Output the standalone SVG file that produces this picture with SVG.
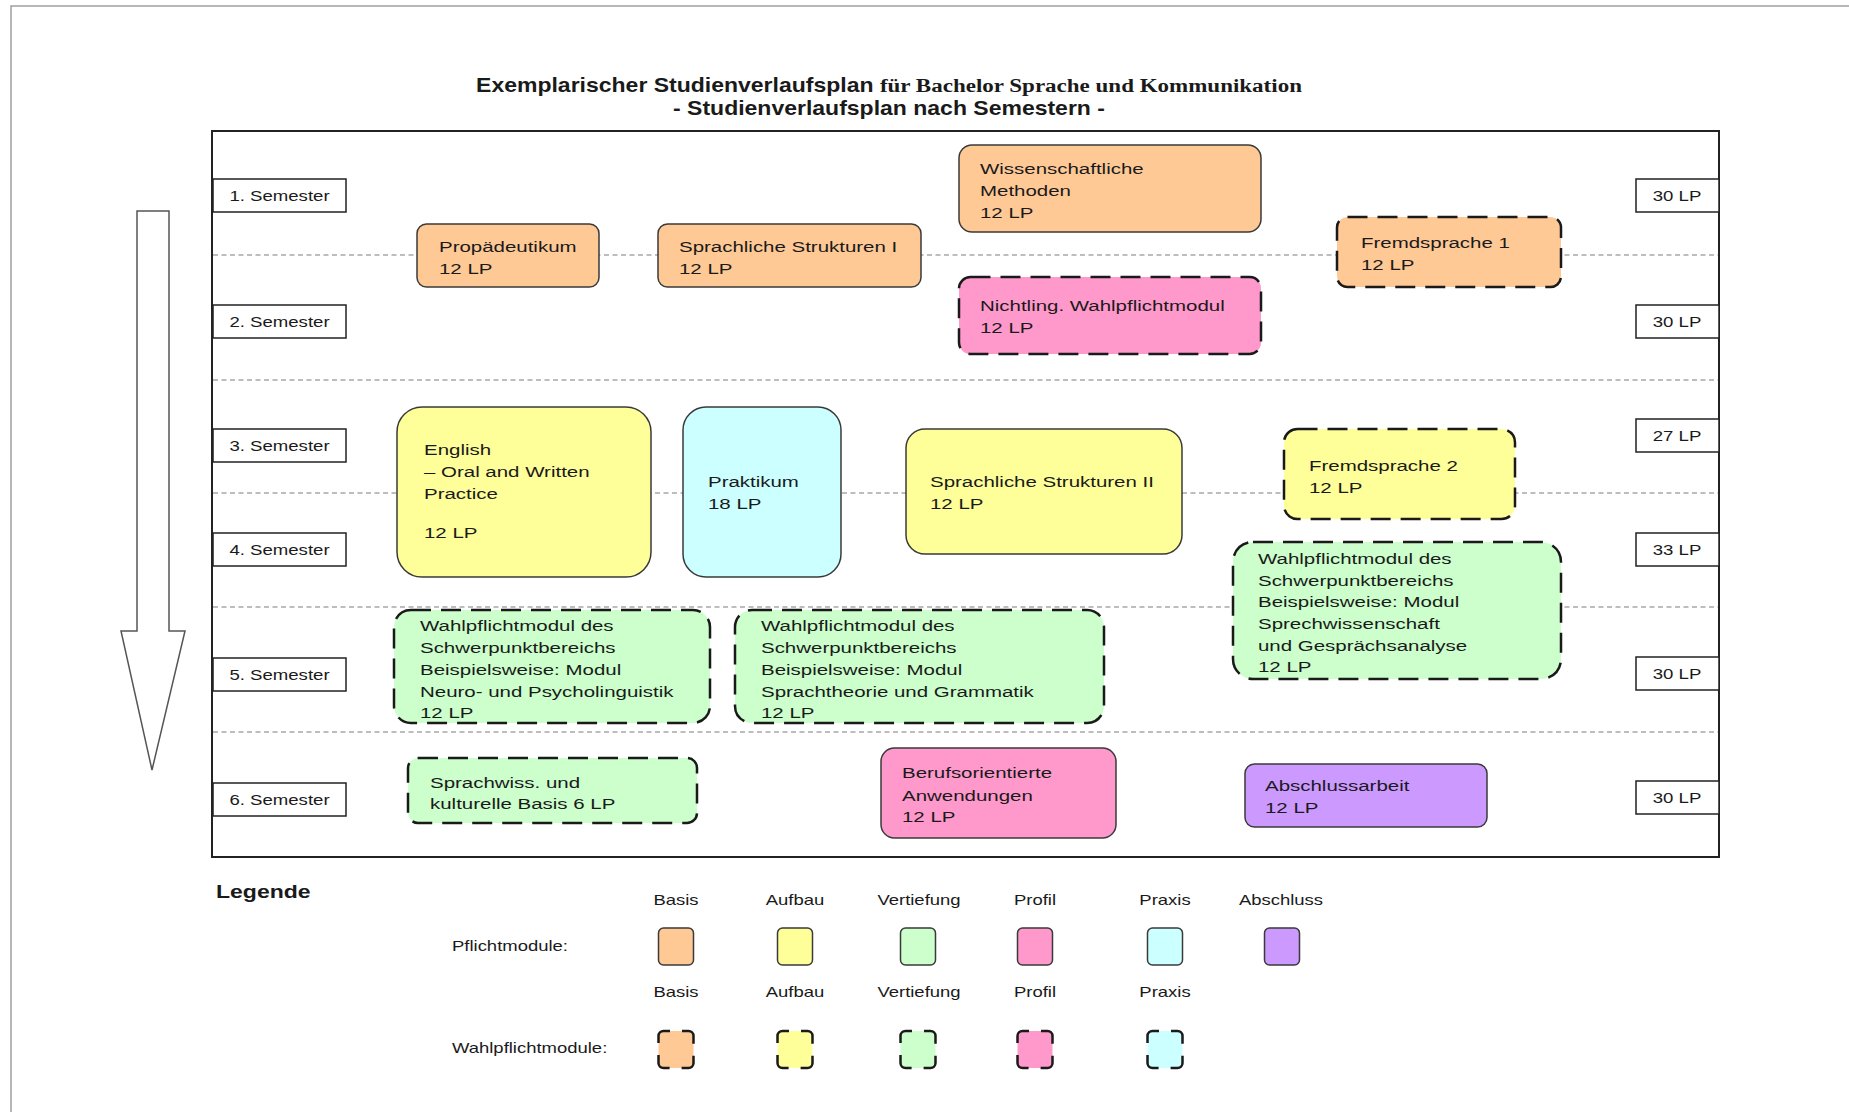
<svg xmlns="http://www.w3.org/2000/svg" width="1849" height="1112" viewBox="0 0 1849 1112">
<style>
text{font-family:"Liberation Sans",Arial,sans-serif;fill:#1a1a1a}
.m{font-size:15.5px}
.lbl{font-size:15.5px;text-anchor:middle}
.lg{font-size:14px}
.lgc{font-size:14px;text-anchor:middle}
.box{fill:#fff;stroke:#222;stroke-width:1.5}
.solid{stroke:#3a3a3a;stroke-width:1.5}
.dash{stroke:#1a1a1a;stroke-width:2.5;stroke-dasharray:20 10}
.ldash{stroke:#1a1a1a;stroke-width:2.5;stroke-dasharray:21.85 12;stroke-dashoffset:15.35}
.div{stroke:#a8a8a8;stroke-width:1.5;stroke-dasharray:5 3.5;fill:none}
.basis{fill:#FFC996}.aufbau{fill:#FFFF99}.vert{fill:#CCFFCC}.profil{fill:#FF99CC}.praxis{fill:#CCFFFF}.abschluss{fill:#CC99FF}
</style>
<rect width="1849" height="1112" fill="#fff"/>
<path d="M11 1112V6H1849" fill="none" stroke="#a0a0a0" stroke-width="1.5"/>
<g id="title">
<text transform="translate(889 92) scale(1.18 1)" text-anchor="middle" font-size="19.5" font-weight="bold"><tspan>Exemplarischer Studienverlaufsplan </tspan><tspan font-family="Liberation Serif, Times New Roman, serif">für Bachelor Sprache und Kommunikation</tspan></text>
<text transform="translate(889 115) scale(1.18 1)" text-anchor="middle" font-size="19.5" font-weight="bold">- Studienverlaufsplan nach Semestern -</text>
</g>
<g id="frame"><rect x="212" y="131" width="1507" height="726" fill="none" stroke="#222" stroke-width="2"/></g>
<g id="dividers">
<path class="div" d="M213 255H1718M213 380H1718M213 493H1718M213 607H1718M213 732H1718"/>
</g>
<g id="timeline-arrow">
<path d="M137 211H169V631H185L152 770L121 631H137Z" fill="#fff" stroke="#555" stroke-width="1.5" stroke-linejoin="miter"/>
</g>
<g id="semesters">
<g id="sem1"><rect class="box" x="213" y="179" width="133" height="33"/><text class="lbl" transform="translate(279.5 201) scale(1.2 1)">1. Semester</text></g>
<g id="sem2"><rect class="box" x="213" y="305" width="133" height="33"/><text class="lbl" transform="translate(279.5 327) scale(1.2 1)">2. Semester</text></g>
<g id="sem3"><rect class="box" x="213" y="429" width="133" height="33"/><text class="lbl" transform="translate(279.5 451) scale(1.2 1)">3. Semester</text></g>
<g id="sem4"><rect class="box" x="213" y="533" width="133" height="33"/><text class="lbl" transform="translate(279.5 555) scale(1.2 1)">4. Semester</text></g>
<g id="sem5"><rect class="box" x="213" y="658" width="133" height="33"/><text class="lbl" transform="translate(279.5 680) scale(1.2 1)">5. Semester</text></g>
<g id="sem6"><rect class="box" x="213" y="783" width="133" height="33"/><text class="lbl" transform="translate(279.5 805) scale(1.2 1)">6. Semester</text></g>
</g>
<g id="credits">
<g id="lp1"><rect class="box" x="1636" y="179" width="83" height="33"/><text class="lbl" transform="translate(1677 201) scale(1.2 1)">30 LP</text></g>
<g id="lp2"><rect class="box" x="1636" y="305" width="83" height="33"/><text class="lbl" transform="translate(1677 327) scale(1.2 1)">30 LP</text></g>
<g id="lp3"><rect class="box" x="1636" y="419" width="83" height="33"/><text class="lbl" transform="translate(1677 441) scale(1.2 1)">27 LP</text></g>
<g id="lp4"><rect class="box" x="1636" y="533" width="83" height="33"/><text class="lbl" transform="translate(1677 555) scale(1.2 1)">33 LP</text></g>
<g id="lp5"><rect class="box" x="1636" y="657" width="83" height="33"/><text class="lbl" transform="translate(1677 679) scale(1.2 1)">30 LP</text></g>
<g id="lp6"><rect class="box" x="1636" y="781" width="83" height="33"/><text class="lbl" transform="translate(1677 803) scale(1.2 1)">30 LP</text></g>
</g>
<g id="modules">
<g id="wiss-methoden"><rect class="basis solid" x="959" y="145" width="302" height="87" rx="13"/><text class="m" transform="translate(980 174) scale(1.32 1)"><tspan x="0" y="0">Wissenschaftliche</tspan><tspan x="0" y="22">Methoden</tspan><tspan x="0" y="44">12 LP</tspan></text></g>
<g id="propaedeutikum"><rect class="basis solid" x="417" y="224" width="182" height="63" rx="9.5"/><text class="m" transform="translate(439 252) scale(1.32 1)"><tspan x="0" y="0">Propädeutikum</tspan><tspan x="0" y="22">12 LP</tspan></text></g>
<g id="sprachstrukturen1"><rect class="basis solid" x="658" y="224" width="263" height="63" rx="9.5"/><text class="m" transform="translate(679 252) scale(1.32 1)"><tspan x="0" y="0">Sprachliche Strukturen I</tspan><tspan x="0" y="22">12 LP</tspan></text></g>
<g id="fremdsprache1"><rect class="basis dash" x="1337" y="217" width="224" height="70" rx="10.5"/><text class="m" transform="translate(1361 248) scale(1.32 1)"><tspan x="0" y="0">Fremdsprache 1</tspan><tspan x="0" y="22">12 LP</tspan></text></g>
<g id="nichtling"><rect class="profil dash" x="959" y="277" width="302" height="77" rx="11.5"/><text class="m" transform="translate(980 311) scale(1.32 1)"><tspan x="0" y="0">Nichtling. Wahlpflichtmodul</tspan><tspan x="0" y="22">12 LP</tspan></text></g>
<g id="english"><rect class="aufbau solid" x="397" y="407" width="254" height="170" rx="25"/><text class="m" transform="translate(424 455) scale(1.32 1)"><tspan x="0" y="0">English</tspan><tspan x="0" y="22">– Oral and Written</tspan><tspan x="0" y="44">Practice</tspan><tspan x="0" y="83">12 LP</tspan></text></g>
<g id="praktikum"><rect class="praxis solid" x="683" y="407" width="158" height="170" rx="23"/><text class="m" transform="translate(708 487) scale(1.32 1)"><tspan x="0" y="0">Praktikum</tspan><tspan x="0" y="22">18 LP</tspan></text></g>
<g id="sprachstrukturen2"><rect class="aufbau solid" x="906" y="429" width="276" height="125" rx="19"/><text class="m" transform="translate(930 487) scale(1.32 1)"><tspan x="0" y="0">Sprachliche Strukturen II</tspan><tspan x="0" y="22">12 LP</tspan></text></g>
<g id="fremdsprache2"><rect class="aufbau dash" x="1284" y="429" width="231" height="90" rx="13.5"/><text class="m" transform="translate(1309 471) scale(1.32 1)"><tspan x="0" y="0">Fremdsprache 2</tspan><tspan x="0" y="22">12 LP</tspan></text></g>
<g id="wpm-sprechwissenschaft"><rect class="vert dash" x="1233" y="542" width="328" height="137" rx="20"/><text class="m" transform="translate(1258 564) scale(1.32 1)"><tspan x="0" y="0">Wahlpflichtmodul des</tspan><tspan x="0" y="22">Schwerpunktbereichs</tspan><tspan x="0" y="43">Beispielsweise: Modul</tspan><tspan x="0" y="65">Sprechwissenschaft</tspan><tspan x="0" y="87">und Gesprächsanalyse</tspan><tspan x="0" y="108">12 LP</tspan></text></g>
<g id="wpm-neuro"><rect class="vert dash" x="394" y="610" width="316" height="113" rx="17"/><text class="m" transform="translate(420 631) scale(1.32 1)"><tspan x="0" y="0">Wahlpflichtmodul des</tspan><tspan x="0" y="22">Schwerpunktbereichs</tspan><tspan x="0" y="44">Beispielsweise: Modul</tspan><tspan x="0" y="66">Neuro- und Psycholinguistik</tspan><tspan x="0" y="87">12 LP</tspan></text></g>
<g id="wpm-sprachtheorie"><rect class="vert dash" x="735" y="610" width="369" height="113" rx="17"/><text class="m" transform="translate(761 631) scale(1.32 1)"><tspan x="0" y="0">Wahlpflichtmodul des</tspan><tspan x="0" y="22">Schwerpunktbereichs</tspan><tspan x="0" y="44">Beispielsweise: Modul</tspan><tspan x="0" y="66">Sprachtheorie und Grammatik</tspan><tspan x="0" y="87">12 LP</tspan></text></g>
<g id="sprachwiss-basis"><rect class="vert dash" x="408" y="758" width="289" height="65" rx="10"/><text class="m" transform="translate(430 788) scale(1.32 1)"><tspan x="0" y="0">Sprachwiss. und</tspan><tspan x="0" y="21">kulturelle Basis 6 LP</tspan></text></g>
<g id="berufsorientiert"><rect class="profil solid" x="881" y="748" width="235" height="90" rx="13.5"/><text class="m" transform="translate(902 778) scale(1.32 1)"><tspan x="0" y="0">Berufsorientierte</tspan><tspan x="0" y="23">Anwendungen</tspan><tspan x="0" y="44">12 LP</tspan></text></g>
<g id="abschlussarbeit"><rect class="abschluss solid" x="1245" y="764" width="242" height="63" rx="9.5"/><text class="m" transform="translate(1265 791) scale(1.32 1)"><tspan x="0" y="0">Abschlussarbeit</tspan><tspan x="0" y="22">12 LP</tspan></text></g>
</g>
<g id="connectors"></g>
<g id="legend">
<text transform="translate(216 898) scale(1.28 1)" font-size="18" font-weight="bold">Legende</text>
<g id="legend-headers1">
<text class="lgc" transform="translate(676 905) scale(1.32 1)">Basis</text>
<text class="lgc" transform="translate(795 905) scale(1.32 1)">Aufbau</text>
<text class="lgc" transform="translate(919 905) scale(1.32 1)">Vertiefung</text>
<text class="lgc" transform="translate(1035 905) scale(1.32 1)">Profil</text>
<text class="lgc" transform="translate(1165 905) scale(1.32 1)">Praxis</text>
<text class="lgc" transform="translate(1281 905) scale(1.32 1)">Abschluss</text>
</g>
<text class="lg" transform="translate(452 951) scale(1.32 1)">Pflichtmodule:</text>
<g id="legend-pflicht">
<rect class="basis solid" x="658.5" y="928" width="35" height="37" rx="5"/>
<rect class="aufbau solid" x="777.5" y="928" width="35" height="37" rx="5"/>
<rect class="vert solid" x="900.5" y="928" width="35" height="37" rx="5"/>
<rect class="profil solid" x="1017.5" y="928" width="35" height="37" rx="5"/>
<rect class="praxis solid" x="1147.5" y="928" width="35" height="37" rx="5"/>
<rect class="abschluss solid" x="1264.5" y="928" width="35" height="37" rx="5"/>
</g>
<g id="legend-headers2">
<text class="lgc" transform="translate(676 997) scale(1.32 1)">Basis</text>
<text class="lgc" transform="translate(795 997) scale(1.32 1)">Aufbau</text>
<text class="lgc" transform="translate(919 997) scale(1.32 1)">Vertiefung</text>
<text class="lgc" transform="translate(1035 997) scale(1.32 1)">Profil</text>
<text class="lgc" transform="translate(1165 997) scale(1.32 1)">Praxis</text>
</g>
<text class="lg" transform="translate(452 1053) scale(1.32 1)">Wahlpflichtmodule:</text>
<g id="legend-wahlpflicht">
<rect class="basis ldash" x="658.5" y="1031" width="35" height="37" rx="5"/>
<rect class="aufbau ldash" x="777.5" y="1031" width="35" height="37" rx="5"/>
<rect class="vert ldash" x="900.5" y="1031" width="35" height="37" rx="5"/>
<rect class="profil ldash" x="1017.5" y="1031" width="35" height="37" rx="5"/>
<rect class="praxis ldash" x="1147.5" y="1031" width="35" height="37" rx="5"/>
</g>
</g>
</svg>
